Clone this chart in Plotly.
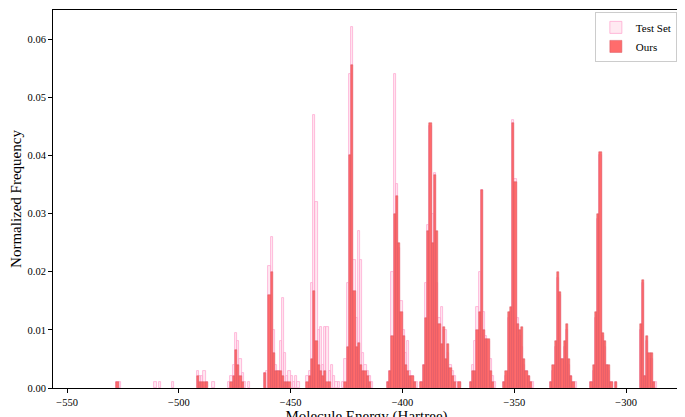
import plotly.graph_objects as go

# histogram clusters: first bin energy (Hartree), then heights of 1-Hartree bins
test_starts = [-528, -511, -509, -503, -492, -478, -462, -443, -427, -407, -392, -370, -355, -334, -316, -294]
test_heights = [
    [0.001, 0.001],
    [0.001],
    [0.001],
    [0.001],
    [0.003, 0.002, 0.002, 0.003, 0.001, 0, 0, 0.001],
    [0.001, 0.002, 0.004, 0.0094, 0.008, 0.005, 0.0025, 0.001, 0, 0.001],
    [0.0025, 0.003, 0.021, 0.026, 0.010, 0.004, 0.003, 0.008, 0.0155, 0.006, 0.002, 0.003, 0.002, 0.001, 0.002, 0.001],
    [0.002, 0.003, 0.018, 0.047, 0.032, 0.010, 0.0105, 0.004, 0.0105, 0.0105, 0.003, 0.004, 0.002, 0.001, 0.001],
    [0.001, 0.005, 0.018, 0.054, 0.062, 0.022, 0.012, 0.027, 0.022, 0.006, 0.004, 0.003, 0.002, 0.001],
    [0.001, 0.003, 0.020, 0.054, 0.035, 0.024, 0.015, 0.010, 0.006, 0.008, 0.003, 0.002, 0.001, 0.001],
    [0.001, 0.004, 0.018, 0.028, 0.045, 0.030, 0.037, 0.018, 0.012, 0.014, 0.010, 0.010, 0.006, 0.004, 0.003, 0.002, 0.001, 0.001],
    [0.001, 0.004, 0.008, 0.014, 0.020, 0.034, 0.013, 0.009, 0.008, 0.005, 0.002, 0.001],
    [0.001, 0.002, 0.012, 0.013, 0.046, 0.036, 0.012, 0.009, 0.007, 0.004, 0.003, 0.002, 0.001, 0.001],
    [0.001, 0.003, 0.007, 0.019, 0.016, 0.005, 0.007, 0.010, 0.004, 0.002, 0.001, 0.001],
    [0.001, 0.003, 0.012, 0.029, 0.040, 0.009, 0.007, 0.004, 0.003, 0.001, 0, 0.001],
    [0.010, 0.018, 0.002, 0.008, 0.005, 0.005, 0.001, 0.001],
]

ours_starts = [-528, -492, -478, -462, -443, -427, -407, -392, -370, -355, -334, -316, -294]
ours_heights = [
    [0.001],
    [0.002, 0.001, 0.001, 0.001, 0.001],
    [0, 0.001, 0.002, 0.0065, 0.004, 0.002, 0.001],
    [0.0025, 0, 0.016, 0.020, 0.006, 0.003, 0.003, 0.003, 0.002, 0.001, 0.001, 0.001],
    [0.001, 0.002, 0.005, 0.0167, 0.008, 0.004, 0.003, 0.002, 0.003, 0.001, 0.001],
    [0, 0.001, 0.007, 0.040, 0.0555, 0.0167, 0.007, 0.0077, 0.004, 0.003, 0.003, 0.002, 0.001],
    [0.001, 0.003, 0.009, 0.030, 0.033, 0.025, 0.013, 0.009, 0.004, 0.003, 0.002, 0.002, 0.001],
    [0.001, 0.004, 0.012, 0.027, 0.0455, 0.025, 0.0367, 0.027, 0.011, 0.0075, 0.0105, 0.005, 0.0075, 0.0035, 0.002, 0.001, 0, 0.001],
    [0.001, 0.003, 0.003, 0.010, 0.013, 0.034, 0.010, 0.0085, 0.0085, 0.003, 0.001],
    [0.001, 0.003, 0.013, 0.014, 0.0455, 0.0355, 0.011, 0.010, 0.0105, 0.005, 0.003, 0.002, 0.001],
    [0.001, 0.004, 0.008, 0.020, 0.0165, 0.005, 0.008, 0.011, 0.005, 0.002, 0.001],
    [0.001, 0.004, 0.013, 0.030, 0.0405, 0.0095, 0.008, 0.004, 0.004, 0.001, 0, 0.001],
    [0.011, 0.0185, 0.002, 0.009, 0.006, 0.006, 0.001],
]


def flatten(starts, heights):
    xs, ys = [], []
    for s, hs in zip(starts, heights):
        for i, h in enumerate(hs):
            if h > 0:
                xs.append(s + i + 0.5)
                ys.append(h)
    return xs, ys


tx, ty = flatten(test_starts, test_heights)
ox, oy = flatten(ours_starts, ours_heights)

fig = go.Figure()
fig.add_trace(go.Bar(x=tx, y=ty, width=1, name='Test Set',
                     marker=dict(color='rgba(255,192,215,0.35)',
                                 line=dict(color='rgb(255,170,210)', width=0.8))))
fig.add_trace(go.Bar(x=ox, y=oy, width=1, name='Ours',
                     marker=dict(color='rgba(255,100,100,0.95)',
                                 line=dict(color='rgb(215,85,95)', width=0.5))))

axis_common = dict(showline=True, linecolor='black', linewidth=1, mirror=True,
                   ticks='outside', ticklen=4, tickcolor='black', showgrid=False,
                   zeroline=False, tickfont=dict(size=10.5))
fig.update_layout(
    width=685, height=417,
    barmode='overlay', bargap=0,
    plot_bgcolor='white', paper_bgcolor='white',
    font=dict(family='Liberation Serif', color='black'),
    margin=dict(l=45, r=13, t=2, b=37),
    legend=dict(x=0.995, y=0.995, xanchor='right', yanchor='top',
                bordercolor='#ccc', borderwidth=1, font=dict(size=11)),
    xaxis=dict(range=[-556.3, -275.9], tickvals=[-550, -500, -450, -400, -350, -300],
               ticktext=['−550', '−500', '−450', '−400', '−350', '−300'],
               title=dict(text='Molecule Energy (Hartree)', font=dict(size=15), standoff=2),
               automargin=False, **axis_common),
    yaxis=dict(range=[0, 0.065], tickvals=[0, 0.01, 0.02, 0.03, 0.04, 0.05, 0.06],
               tickformat='.2f',
               title=dict(text='Normalized Frequency', font=dict(size=15), standoff=4),
               automargin=False, **axis_common),
)

fig.write_html("out.html")
